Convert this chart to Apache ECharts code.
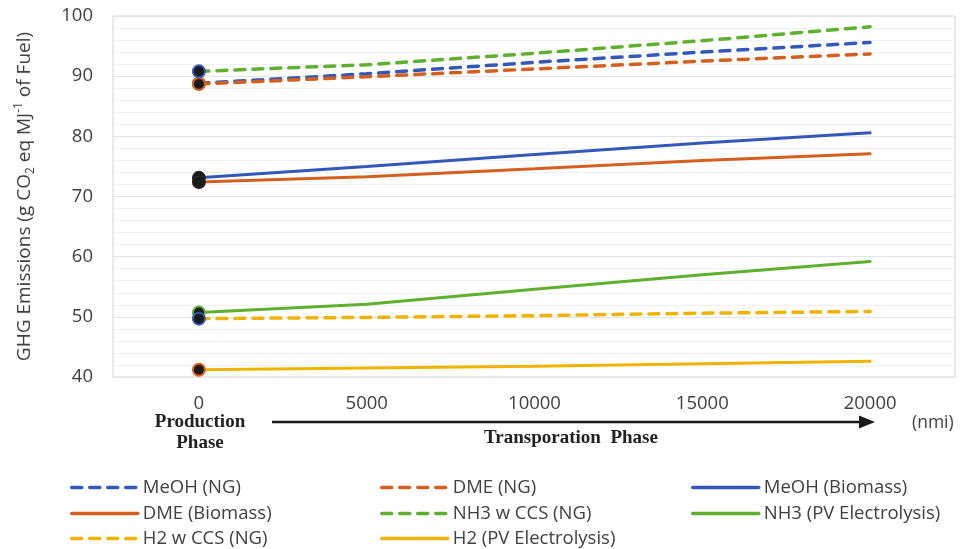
<!DOCTYPE html>
<html>
<head>
<meta charset="utf-8">
<script src="https://cdn.jsdelivr.net/npm/echarts@6/dist/echarts.min.js"></script>
<style>html,body{margin:0;padding:0;background:#fff}#c{width:966px;height:549px}</style>
</head>
<body>
<div id="c"></div>
<script>
// ---- data ----
const xValues = [0, 5000, 10000, 15000, 20000];
const xTickLabels = [0, 5000, 10000, 15000, 20000];
const seriesNames = ['MeOH (NG)', 'DME (NG)', 'MeOH (Biomass)', 'DME (Biomass)', 'NH3 w CCS (NG)', 'NH3 (PV Electrolysis)', 'H2 w CCS (NG)', 'H2 (PV Electrolysis)'];
const meohNG  = [88.8, 90.4, 92.3, 94.0, 95.6];
const dmeNG   = [88.7, 89.9, 91.2, 92.5, 93.7];
const meohBio = [73.1, 75.0, 77.0, 78.9, 80.6];
const dmeBio  = [72.4, 73.3, 74.6, 76.0, 77.1];
const nh3CCS  = [90.8, 91.9, 93.8, 95.9, 98.2];
const nh3PV   = [50.7, 52.1, 54.6, 57.0, 59.2];
const h2CCS   = [49.7, 49.9, 50.2, 50.6, 50.9];
const h2PV    = [41.2, 41.5, 41.8, 42.2, 42.6];
const yMin = 40, yMax = 100, yStep = 10;

// ---- styles ----
const BLUE = '#3458b8', ORANGE = '#d4601f', GREEN = '#5fb02f', YELLOW = '#f0b400';
const TXT = '#404040';
const FONT = '"Open Sans", "Noto Sans", sans-serif';
const defs = [
  {vals: meohNG,  color: BLUE,   dashed: true,  mk: ORANGE},
  {vals: dmeNG,   color: ORANGE, dashed: true,  mk: ORANGE},
  {vals: meohBio, color: BLUE,   dashed: false, mk: '#222'},
  {vals: dmeBio,  color: ORANGE, dashed: false, mk: '#222'},
  {vals: nh3CCS,  color: GREEN,  dashed: true,  mk: BLUE},
  {vals: nh3PV,   color: GREEN,  dashed: false, mk: GREEN},
  {vals: h2CCS,   color: YELLOW, dashed: true,  mk: BLUE},
  {vals: h2PV,    color: YELLOW, dashed: false, mk: ORANGE}
];

const series = defs.map((d, i) => ({
  type: 'line',
  name: seriesNames[i],
  symbol: 'none',
  color: d.color,
  lineStyle: {color: d.color, width: d.dashed ? 3.5 : 3, type: d.dashed ? [10, 8] : 'solid', cap: 'round'},
  data: d.vals.map((v, j) => j === 0
    ? {value: [xValues[j], v], symbol: 'circle', symbolSize: 12, itemStyle: {color: '#1a1a1a', borderColor: d.mk, borderWidth: 2}}
    : {value: [xValues[j], v]}),
  z: 2,
  animation: false
}));

// legend layout: 3 columns x 3 rows
const legendCols = [65, 375, 686];
const legendRows = [473, 499, 524];
const legends = seriesNames.map((n, i) => ({
  left: legendCols[i % 3], top: legendRows[Math.floor(i / 3)],
  data: [n], itemWidth: 66, itemHeight: 14,
  itemStyle: {color: 'rgba(0,0,0,0)', borderWidth: 0, opacity: 0},
  lineStyle: {width: 3.5},
  textStyle: {fontSize: 18.5, color: TXT, fontFamily: FONT, lineHeight: 18},
  selectedMode: false
}));

const chart = echarts.init(document.getElementById('c'));
chart.setOption({
  animation: false,
  backgroundColor: '#fff',
  grid: {left: 113, right: 11, top: 16, bottom: 172, show: true, borderColor: '#d9d2d2', borderWidth: 1},
  legend: legends,
  xAxis: {
    type: 'value', min: -2560, max: 22530,
    axisLine: {show: false}, axisTick: {show: false}, splitLine: {show: false},
    axisLabel: {customValues: xTickLabels, formatter: v => String(v), fontSize: 18.5, color: TXT, fontFamily: FONT, margin: 17}
  },
  yAxis: {
    type: 'value', min: yMin, max: yMax, interval: yStep,
    axisLine: {show: false}, axisTick: {show: false},
    splitLine: {lineStyle: {color: '#dfe5ea', width: 1}},
    minorTick: {show: false, splitNumber: 5},
    minorSplitLine: {show: true, lineStyle: {color: '#eff2f4', width: 1}},
    axisLabel: {fontSize: 18.5, color: TXT, fontFamily: FONT, margin: 20},
    name: '{a|GHG Emissions (g CO}{s|2}{a| eq MJ}{p|-1}{a| of Fuel)}',
    nameLocation: 'middle', nameGap: 76,
    nameTextStyle: {
      color: TXT, fontFamily: FONT,
      rich: {
        a: {fontSize: 19, color: TXT, fontFamily: FONT, lineHeight: 24},
        s: {fontSize: 12, color: TXT, fontFamily: FONT, lineHeight: 12, verticalAlign: 'bottom'},
        p: {fontSize: 12, color: TXT, fontFamily: FONT, lineHeight: 12, verticalAlign: 'top'}
      }
    }
  },
  graphic: [
    {type: 'text', x: 200, y: 422, silent: true,
     style: {text: 'Production', font: 'bold 19px "Liberation Serif", serif', fill: '#222', align: 'center', verticalAlign: 'middle'}},
    {type: 'text', x: 200, y: 443, silent: true,
     style: {text: 'Phase', font: 'bold 19px "Liberation Serif", serif', fill: '#222', align: 'center', verticalAlign: 'middle'}},
    {type: 'line', silent: true, shape: {x1: 272, y1: 422, x2: 862, y2: 422}, style: {stroke: '#1a1a1a', lineWidth: 2.5}},
    {type: 'polygon', silent: true, shape: {points: [[875, 422], [859, 415.5], [859, 428.5]]}, style: {fill: '#1a1a1a'}},
    {type: 'text', x: 571, y: 438, silent: true,
     style: {text: 'Transporation  Phase', font: 'bold 19px "Liberation Serif", serif', fill: '#222', align: 'center', verticalAlign: 'middle'}},
    {type: 'text', x: 912, y: 423, silent: true,
     style: {text: '(nmi)', font: '17.5px "Open Sans", sans-serif', fill: TXT, align: 'left', verticalAlign: 'middle'}}
  ],
  series: series
});
</script>
</body>
</html>
